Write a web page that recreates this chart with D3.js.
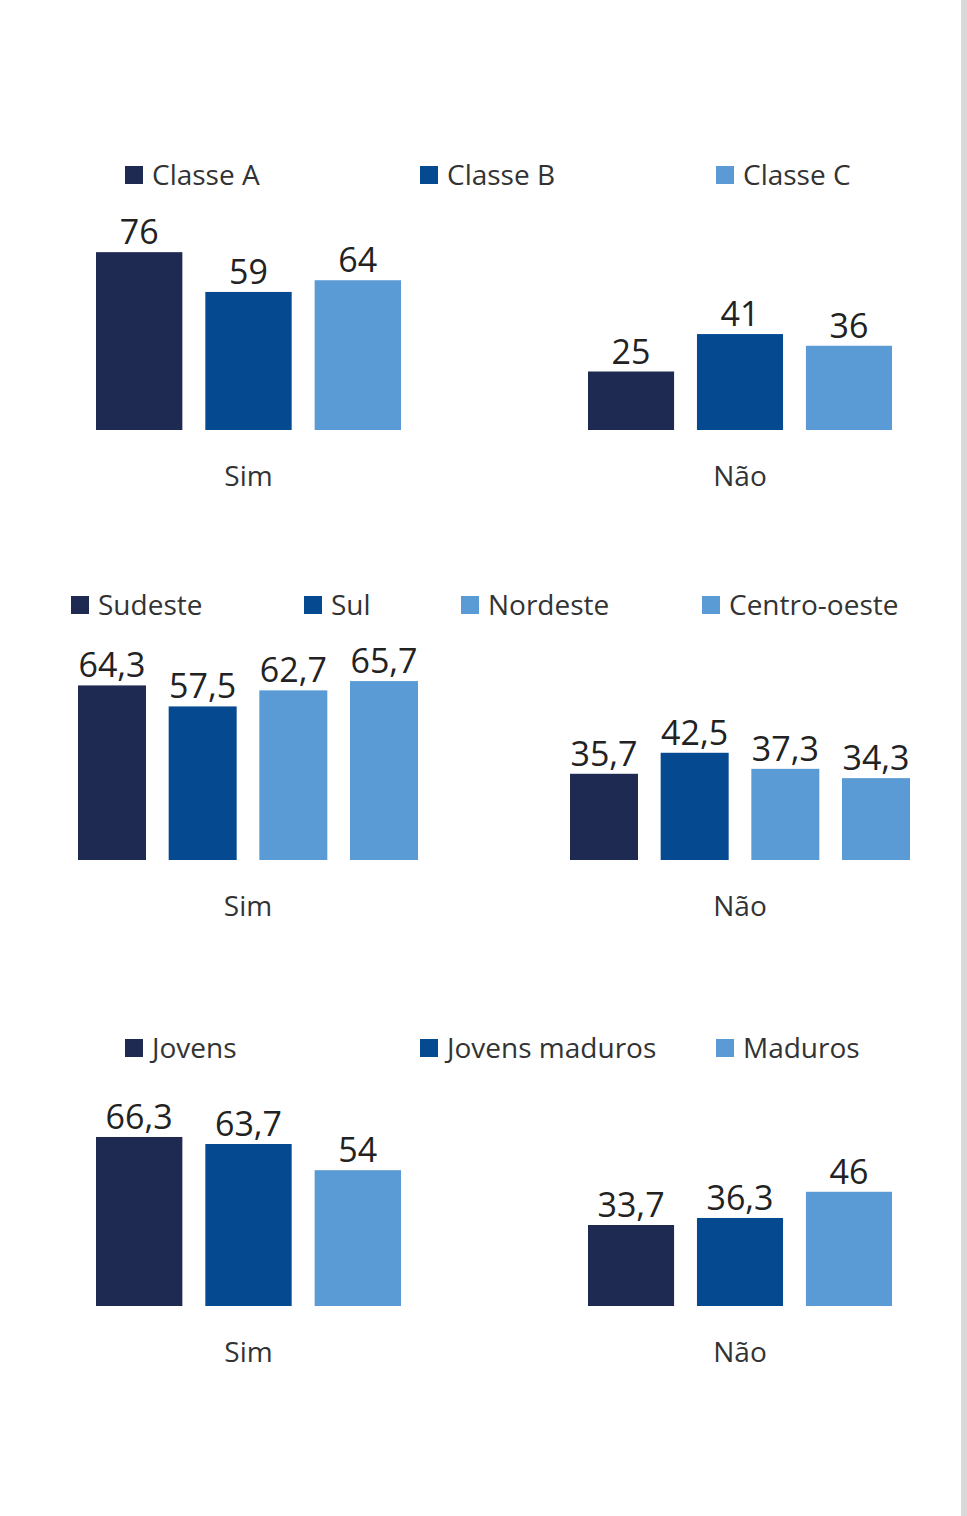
<!DOCTYPE html>
<html><head><meta charset="utf-8">
<script src="https://cdn.jsdelivr.net/npm/d3@7"></script>
<style>body{margin:0;background:#fff}svg{display:block}</style>
</head><body>
<script>
// colours
var navy = "#1f2a52", mid = "#054a91", light = "#5b9bd5";

// panel 1 : classe social
var classeSeries = ["Classe A", "Classe B", "Classe C"];
var classeSim = [76, 59, 64];
var classeNao = [25, 41, 36];
var classeCols = [navy, mid, light];

// panel 2 : regiao
var regiaoSeries = ["Sudeste", "Sul", "Nordeste", "Centro-oeste"];
var regiaoSim = [64.3, 57.5, 62.7, 65.7];
var regiaoNao = [35.7, 42.5, 37.3, 34.3];
var regiaoCols = [navy, mid, light, light];

// panel 3 : idade
var idadeSeries = ["Jovens", "Jovens maduros", "Maduros"];
var idadeSim = [66.3, 63.7, 54];
var idadeNao = [33.7, 36.3, 46];
var idadeCols = [navy, mid, light];

var groups = ["Sim", "Não"];

var svg = d3.select("body").append("svg").attr("width", 967).attr("height", 1516);
svg.append("rect").attr("x", 961).attr("y", 0).attr("width", 6).attr("height", 1516).attr("fill", "#d9d9d9");

var fmt = function(v){ return String(v).replace(".", ","); };

function panel(p){
  // x scale per group
  p.groups.forEach(function(g, gi){
    var vals = gi == 0 ? p.sim : p.nao;
    var x = d3.scaleBand().domain(d3.range(vals.length))
      .range(p.ranges[gi]).paddingInner(p.pad);
    var y = d3.scaleLinear().domain([p.d0, p.d1]).range([p.base, p.base - p.px * (p.d1 - p.d0)]);
    var gEl = svg.append("g");
    gEl.selectAll("rect").data(vals).enter().append("rect")
      .attr("x", function(d, i){ return x(i); })
      .attr("width", x.bandwidth())
      .attr("y", function(d){ return y(d); })
      .attr("height", function(d){ return p.base - y(d); })
      .attr("fill", function(d, i){ return p.cols[i]; });
    gEl.selectAll("text.v").data(vals).enter().append("text")
      .attr("x", function(d, i){ return x(i) + x.bandwidth() / 2; })
      .attr("y", function(d){ return y(d) - 8; })
      .attr("text-anchor", "middle")
      .attr("font-family", "Open Sans, sans-serif")
      .attr("font-size", 34).attr("fill", "#222")
      .text(fmt);
    svg.append("text")
      .attr("x", (p.ranges[gi][0] + p.ranges[gi][1]) / 2)
      .attr("y", p.base + 56)
      .attr("text-anchor", "middle")
      .attr("font-family", "Open Sans, sans-serif")
      .attr("font-size", 28).attr("fill", "#333")
      .text(g);
  });
  // legend
  p.series.forEach(function(s, i){
    svg.append("rect").attr("x", p.legX[i]).attr("y", p.legY - 9)
      .attr("width", 18).attr("height", 18).attr("fill", p.cols[i]);
    svg.append("text").attr("x", p.legX[i] + 27).attr("y", p.legY + 10)
      .attr("font-family", "Open Sans, sans-serif")
      .attr("font-size", 28).attr("fill", "#333").text(s);
  });
}

panel({series: classeSeries, sim: classeSim, nao: classeNao, cols: classeCols, groups: groups,
  ranges: [[96, 401], [588, 892]], pad: 0.21, base: 430, d0: 0, d1: 80, px: 2.34,
  legX: [125, 420, 716], legY: 175});
panel({series: regiaoSeries, sim: regiaoSim, nao: regiaoNao, cols: regiaoCols, groups: groups,
  ranges: [[78, 418], [570, 910]], pad: 0.25, base: 860, d0: 7.8, d1: 70, px: 3.09,
  legX: [71, 304, 461, 702], legY: 605});
panel({series: idadeSeries, sim: idadeSim, nao: idadeNao, cols: idadeCols, groups: groups,
  ranges: [[96, 401], [588, 892]], pad: 0.21, base: 1306, d0: 3.7, d1: 70, px: 2.7,
  legX: [125, 420, 716], legY: 1048});
</script>
</body></html>
